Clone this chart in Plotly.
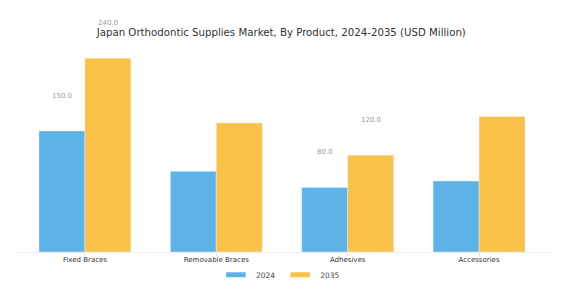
import plotly.graph_objects as go

categories = ["Fixed Braces", "Removable Braces", "Adhesives", "Accessories"]
values_2024 = [150.0, 100.0, 80.0, 88.0]
values_2035 = [240.0, 160.0, 120.0, 168.0]
labeled = ["Fixed Braces", "Adhesives"]

BLUE = "#5DB3E6"
YELLOW = "#F9C34A"
FONT = "DejaVu Sans"

fig = go.Figure()
fig.add_trace(go.Bar(name="2024", x=categories, y=values_2024, marker_color=BLUE, showlegend=False))
fig.add_trace(go.Bar(name="2035", x=categories, y=values_2035, marker_color=YELLOW, showlegend=False))
for name, col in (("2024", BLUE), ("2035", YELLOW)):
    fig.add_trace(go.Scatter(name=name, x=[None], y=[None], mode="markers",
                             marker=dict(symbol="line-ew", size=14, line=dict(width=6, color=col))))

for i, c in enumerate(categories):
    if c in labeled:
        for vals, shift in ((values_2024, -23), (values_2035, 23)):
            fig.add_annotation(x=c, y=vals[i], text=f"{vals[i]:.1f}", showarrow=False,
                               xshift=shift, yshift=35,
                               font=dict(family=FONT, size=7, color="#999999"))

fig.update_layout(
    width=566, height=302,
    margin=dict(l=14, r=16, t=40, b=50, autoexpand=False),
    paper_bgcolor="white", plot_bgcolor="white",
    barmode="group", bargap=0.3, bargroupgap=0,
    title=dict(text="Japan Orthodontic Supplies Market, By Product, 2024-2035 (USD Million)",
               x=0.497, xanchor="center", y=0.894, yanchor="middle",
               font=dict(family=FONT, size=10.2, color="#333333")),
    font=dict(family=FONT),
    showlegend=True,
    legend=dict(orientation="h", x=0.497, xanchor="center", yref="container", y=0.09, yanchor="middle",
                bgcolor="rgba(0,0,0,0)", itemsizing="trace",
                font=dict(family=FONT, size=7.5, color="#444444")),
)
fig.update_xaxes(range=[-0.54, 3.54], showline=True, linecolor="#EEEEEE", linewidth=1,
                 ticks="outside", ticklen=3, tickcolor="#DDDDDD", automargin=False,
                 ticklabelstandoff=-2,
                 tickfont=dict(family=FONT, size=7, color="#333333"), showgrid=False)
fig.update_yaxes(range=[0, 262.7], visible=False, showgrid=False)

fig.write_html("out.html")
